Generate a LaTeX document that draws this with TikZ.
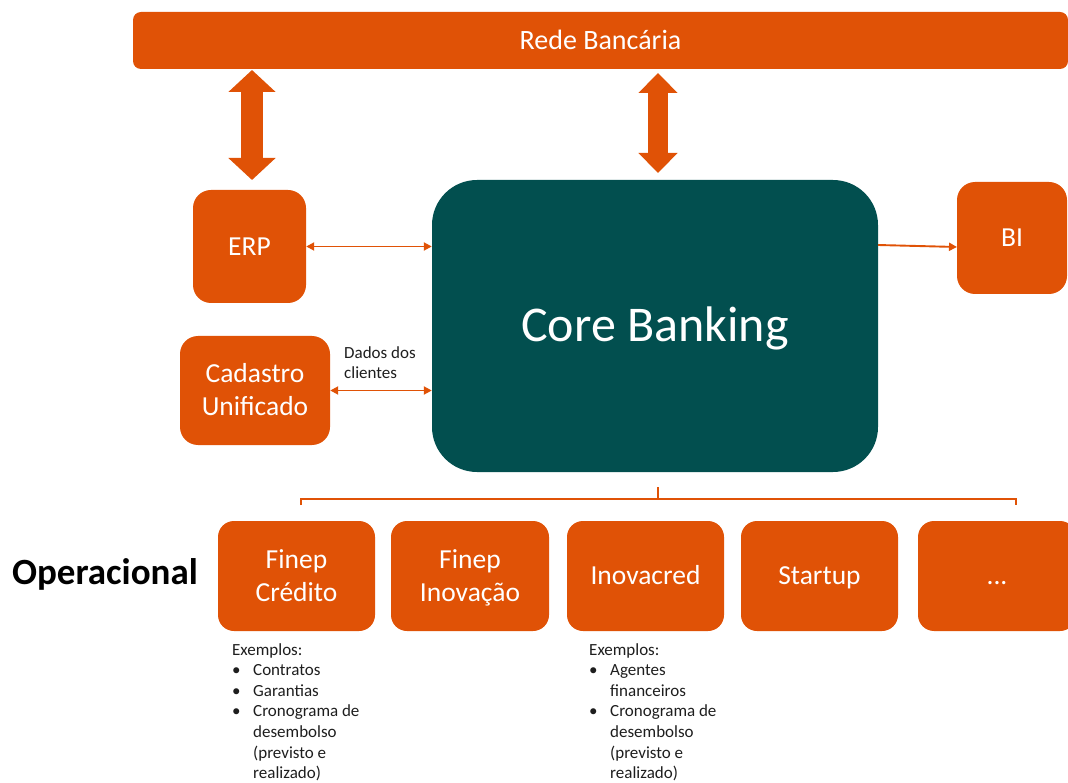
\documentclass[tikz,border=0pt]{standalone}
\usepackage{fontspec}
\setmainfont{Carlito}
\usetikzlibrary{arrows.meta,calc}
\definecolor{orng}{RGB}{224,82,6}
\definecolor{tealc}{RGB}{2,79,79}
\definecolor{txtc}{RGB}{30,30,30}
\newcommand\bst{\rule[-0.28em]{0pt}{1.18em}}
\begin{document}
\begin{tikzpicture}[x=1pt,y=-1pt,
  obox/.style={fill=orng, draw=none, rounded corners=16pt, text=white, align=center, inner sep=0pt,
    font=\fontsize{27.5}{33}\selectfont},
  thinarr/.style={draw=orng, line width=1.9pt, {Triangle[length=8pt,width=8pt]}-{Triangle[length=8pt,width=8pt]}},
  thinone/.style={draw=orng, line width=1.9pt, -{Triangle[length=8pt,width=8pt]}},
  brk/.style={draw=orng, line width=1.6pt},
  exmp/.style={anchor=north west, inner sep=0pt, align=left, text=txtc, font=\fontsize{17}{20.6}\selectfont}
]
\useasboundingbox (0,0) rectangle (1068,783);

% top bar
\node[obox, rounded corners=8pt, minimum width=935pt, minimum height=57pt, font=\fontsize{28}{33}\selectfont]
  (rede) at (600.5,40.5) {\bst Rede Bancária};

% side boxes
\node[obox, rounded corners=18pt, minimum width=113pt, minimum height=113pt] (erp) at (249.5,246.5) {\bst ERP};
\node[obox, rounded corners=18pt, minimum width=110pt, minimum height=112pt] (bi) at (1012,238) {\bst BI};
\node[obox, rounded corners=18pt, minimum width=150pt, minimum height=109pt] (cad) at (255,390.5) {\bst Cadastro\\\bst Unificado};

% core
\node[fill=tealc, rounded corners=45pt, minimum width=446pt, minimum height=292pt, inner sep=0pt,
  text=white, font=\fontsize{50}{60}\selectfont] (core) at (655,326) {\bst Core Banking};

% fat double arrows
\coordinate (f1a) at (252,70);
\coordinate (f1b) at (252,180);
\coordinate (f2a) at (658,73);
\coordinate (f2b) at (658,173);
\draw[orng, line width=22pt, {Triangle[length=22pt,width=46pt]}-{Triangle[length=22pt,width=46pt]}] (f1a) -- (f1b);
\draw[orng, line width=20pt, {Triangle[length=20pt,width=38pt]}-{Triangle[length=20pt,width=38pt]}] (f2a) -- (f2b);

% thin connectors
\draw[thinarr] (erp.east) -- (erp.east -| core.west);
\draw[thinarr] (cad.east) -- (cad.east -| core.west);
\coordinate (bs) at (878,245);
\coordinate (be) at (957,247);
\draw[thinone] (bs) -- (be);

\node[exmp] (dados) at (344,346) {Dados dos\\clientes};

% bottom boxes
\node[obox, minimum width=157pt, minimum height=110pt] (fc) at (296.5,576) {\bst Finep\\\bst Crédito};
\node[obox, minimum width=158pt, minimum height=110pt] (fi) at (470,576) {\bst Finep\\\bst Inovação};
\node[obox, minimum width=157pt, minimum height=110pt] (ino) at (645.5,576) {\bst Inovacred};
\node[obox, minimum width=157pt, minimum height=110pt] (st) at (819.5,576) {\bst Startup};
\node[obox, minimum width=158pt, minimum height=110pt] (dots) at (997,576) {\bst ...};

% bracket
\coordinate (bt) at (658,487);
\coordinate (bm) at (658,499);
\coordinate (bl) at (301,505);
\coordinate (br) at (1016,505);
\draw[brk] (bl) |- (bm) -| (br);
\draw[brk] (bt) -- (bm);

\node[font=\bfseries\fontsize{37}{44}\selectfont, text=black, inner sep=0pt] (op) at (105,573) {\bst Operacional};

\node[exmp] (ex1) at (232,643) {Exemplos:\\
\makebox[21pt][l]{\textbullet}Contratos\\
\makebox[21pt][l]{\textbullet}Garantias\\
\makebox[21pt][l]{\textbullet}Cronograma de\\
\hspace*{21pt}desembolso\\
\hspace*{21pt}(previsto e\\
\hspace*{21pt}realizado)};

\node[exmp] (ex2) at (589,643) {Exemplos:\\
\makebox[21pt][l]{\textbullet}Agentes\\
\hspace*{21pt}financeiros\\
\makebox[21pt][l]{\textbullet}Cronograma de\\
\hspace*{21pt}desembolso\\
\hspace*{21pt}(previsto e\\
\hspace*{21pt}realizado)};
\end{tikzpicture}
\end{document}
